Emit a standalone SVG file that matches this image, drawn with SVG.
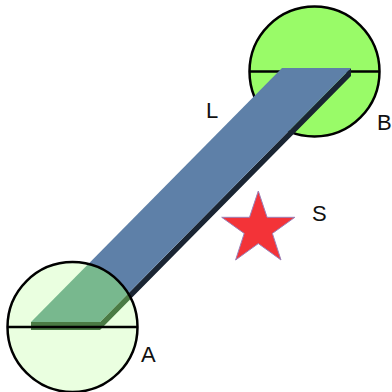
<svg xmlns="http://www.w3.org/2000/svg" width="392" height="392" viewBox="0 0 392 392">
<style>
.lbl{font-family:"Liberation Sans",Arial,sans-serif;font-size:22px;fill:#111}
.ring{fill:none;stroke:#000;stroke-width:2.5}
.axis{stroke:#000;stroke-width:2.5}
</style>
<defs>
<clipPath id="clipA"><circle cx="72.5" cy="327" r="65"/></clipPath>
<polygon id="face" points="282,68 351,68 100,322 31,322"/>
<polygon id="side" points="351,68 351,76 100,330 31,330 31,322 100,322"/>
</defs>
<rect width="392" height="392" fill="#fff"/>
<g id="nodeB">
<circle cx="314.5" cy="71.5" r="65" fill="#99fb68" stroke="#000" stroke-width="2.5"/>
<line class="axis" x1="249.5" y1="71.5" x2="379.5" y2="71.5"/>
</g>
<g id="beam">
<use href="#side" fill="#1a2533"/>
<use href="#face" fill="#5e80a8"/>
</g>
<g id="nodeA">
<circle cx="72.5" cy="327" r="65" fill="#eaffe0"/>
<g clip-path="url(#clipA)">
<use href="#side" fill="#4b7b45"/>
<use href="#face" fill="#78b88e"/>
</g>
<circle class="ring" cx="72.5" cy="327" r="65"/>
<line class="axis" x1="7.5" y1="327" x2="137.5" y2="327"/>
</g>
<g id="star">
<polygon points="258.3,191 267.1,217.3 294.9,217.3 272.4,233.4 281,260 258.3,243.6 235.6,260 244.2,233.4 221.7,217.3 249.5,217.3" fill="#f33338" stroke="#9a80b8" stroke-width="1"/>
</g>
<g id="labels">
<text class="lbl" x="206" y="118">L</text>
<text class="lbl" x="141" y="362">A</text>
<text class="lbl" x="377" y="130">B</text>
<text class="lbl" x="312" y="221">S</text>
</g>
</svg>
